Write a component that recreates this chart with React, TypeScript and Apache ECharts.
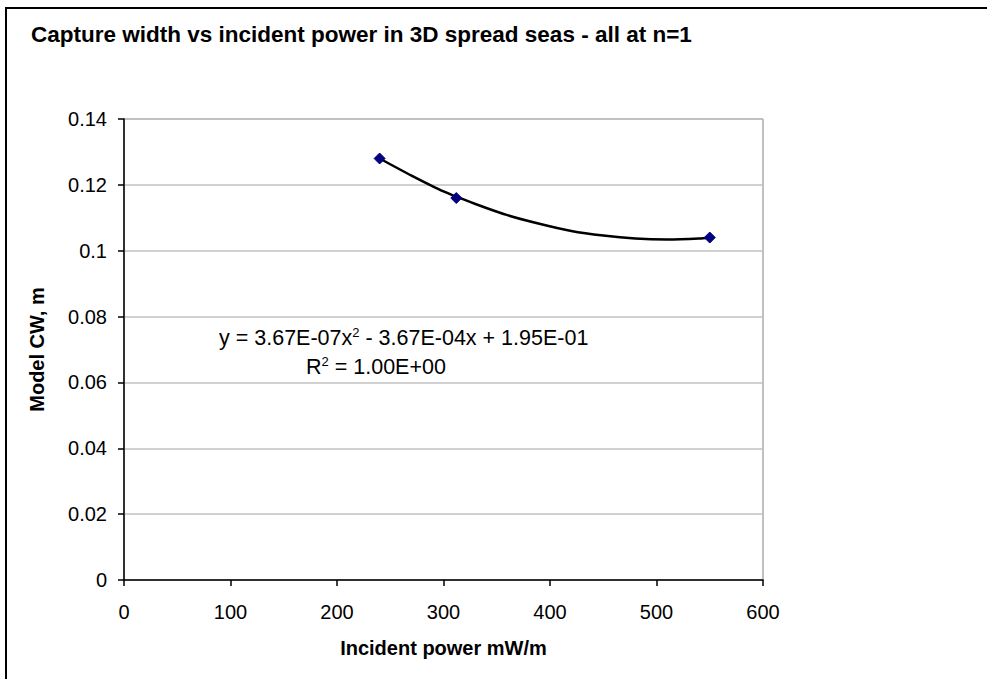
import React, { useEffect, useRef } from "react";
import * as echarts from "echarts";

const TITLE = "Capture width vs incident power in 3D spread seas - all at n=1";
const X_NAME = "Incident power mW/m";
const Y_NAME = "Model CW, m";

// Measured points
const pointX = [240, 312, 550];
const pointY = [0.128, 0.116, 0.104];

// Polynomial trendline
const trendX = [240, 270, 300, 330, 360, 390, 420, 450, 480, 510, 540, 550];
const trendY = [0.128, 0.1228, 0.118, 0.1142, 0.1108, 0.1082, 0.106, 0.1046, 0.1037, 0.1034, 0.1037, 0.104];

const EQ_LINE1 = ["y = 3.67E-07x", "2", " - 3.67E-04x + 1.95E-01"];
const EQ_LINE2 = ["R", "2", " = 1.00E+00"];

const FONT = '"Liberation Sans", Arial, sans-serif';

export default function App() {
  const ref = useRef<HTMLDivElement>(null);
  useEffect(() => {
    if (!ref.current) return;
    const chart = echarts.init(ref.current, null, { renderer: "svg" });
    const rich = {
      n: { fontSize: 21.5, fontFamily: FONT, color: "#000", lineHeight: 24 },
      s: { fontSize: 13, fontFamily: FONT, color: "#000", verticalAlign: "top", lineHeight: 24 },
    };
    chart.setOption({
      animation: false,
      backgroundColor: "#fff",
      textStyle: { fontFamily: FONT },
      grid: {
        left: 124,
        right: 224,
        top: 119,
        bottom: 99,
        show: true,
        borderColor: "#808080",
        borderWidth: 1,
        backgroundColor: "transparent",
      },
      xAxis: {
        type: "value",
        min: 0,
        max: 600,
        interval: 100,
        name: X_NAME,
        nameLocation: "middle",
        nameGap: 58,
        nameTextStyle: { fontSize: 20, fontWeight: "bold", color: "#000", fontFamily: FONT },
        axisLine: { show: true, onZero: false, lineStyle: { color: "#000", width: 1.5 } },
        axisTick: { show: true, inside: false, length: 6, lineStyle: { color: "#000", width: 1.5 } },
        axisLabel: { color: "#000", fontSize: 20, fontFamily: FONT, margin: 22 },
        splitLine: { show: false },
      },
      yAxis: {
        type: "value",
        min: 0,
        max: 0.14,
        interval: 0.02,
        name: Y_NAME,
        nameLocation: "middle",
        nameRotate: 90,
        nameGap: 77,
        nameTextStyle: { fontSize: 20, fontWeight: "bold", color: "#000", fontFamily: FONT },
        axisLine: { show: true, onZero: false, lineStyle: { color: "#000", width: 1.5 } },
        axisTick: { show: true, inside: false, length: 6, lineStyle: { color: "#000", width: 1.5 } },
        axisLabel: {
          color: "#000",
          fontSize: 20,
          fontFamily: FONT,
          margin: 17,
          formatter: (v: number) => String(+v.toFixed(2)),
        },
        splitLine: { show: true, lineStyle: { color: "#c0c0c0", width: 1.5 } },
      },
      graphic: [
        {
          type: "rect",
          silent: true,
          shape: { x: 6, y: 8, width: 1000, height: 700 },
          style: { fill: "none", stroke: "#000", lineWidth: 2 },
        },
        {
          type: "text",
          x: 31,
          y: 34,
          style: {
            text: TITLE,
            fontSize: 22.5,
            fontWeight: "bold",
            fontFamily: FONT,
            fill: "#000",
            verticalAlign: "middle",
          },
        },
        {
          type: "text",
          x: 219,
          y: 338,
          style: {
            text: `{n|${EQ_LINE1[0]}}{s|${EQ_LINE1[1]}}{n|${EQ_LINE1[2]}}`,
            rich,
            verticalAlign: "middle",
          },
        },
        {
          type: "text",
          x: 306,
          y: 367,
          style: {
            text: `{n|${EQ_LINE2[0]}}{s|${EQ_LINE2[1]}}{n|${EQ_LINE2[2]}}`,
            rich,
            verticalAlign: "middle",
          },
        },
      ],
      series: [
        {
          type: "line",
          data: trendX.map((x, i) => [x, trendY[i]]),
          smooth: 0.25,
          showSymbol: false,
          symbol: "none",
          lineStyle: { color: "#000", width: 2.5 },
          z: 2,
        },
        {
          type: "scatter",
          data: pointX.map((x, i) => [x, pointY[i]]),
          symbol: "diamond",
          symbolSize: 11,
          itemStyle: { color: "#000080", borderColor: "#000080", opacity: 1 },
          z: 3,
        },
      ],
    });
    return () => chart.dispose();
  }, []);
  return (
    <div
      ref={ref}
      style={{ position: "fixed", left: 0, top: 0, width: 987, height: 679, background: "#fff" }}
    />
  );
}
